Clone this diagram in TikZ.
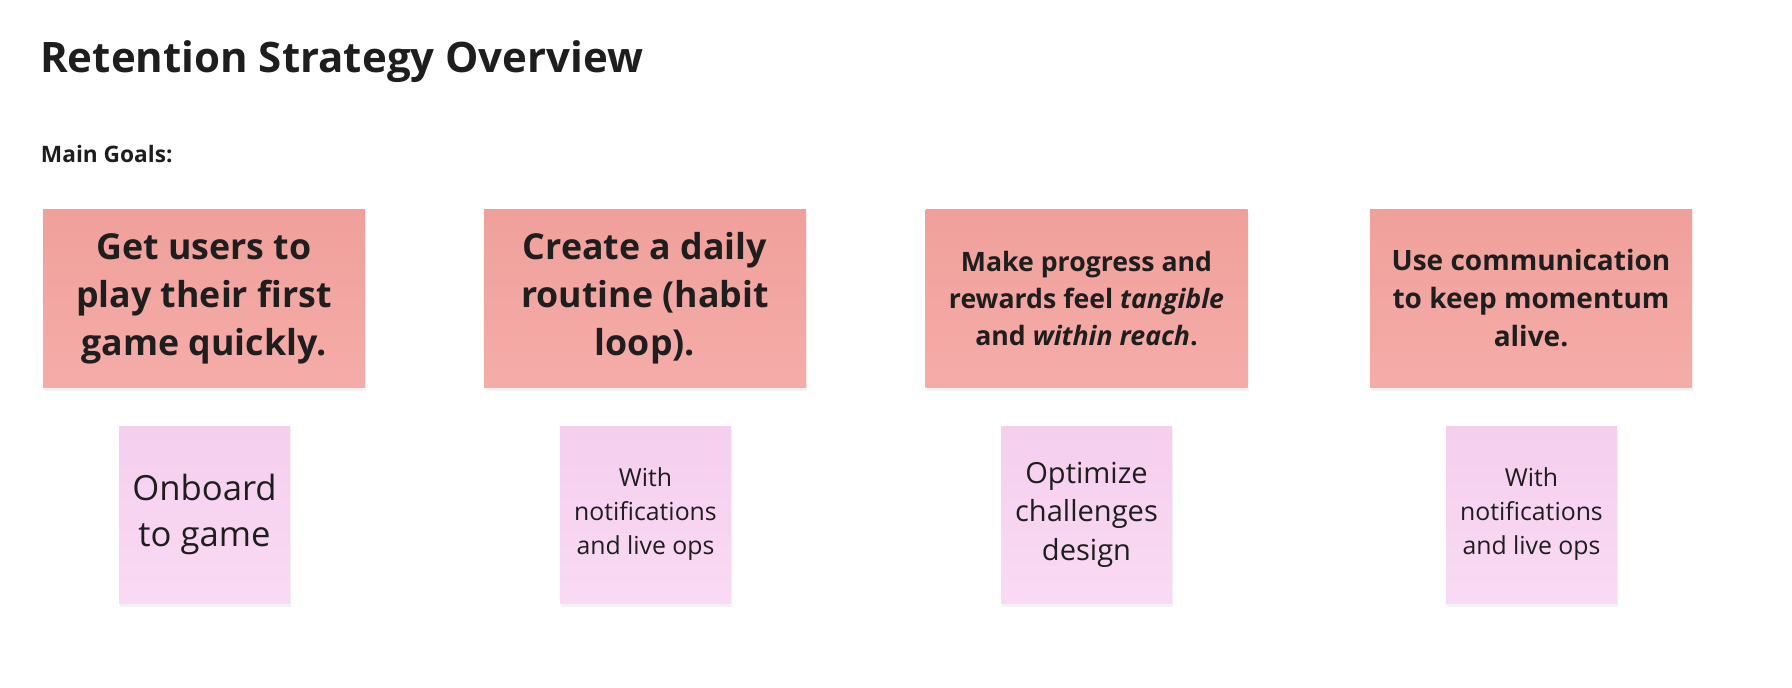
\documentclass[tikz,border=0pt]{standalone}
\usepackage{fontspec}
\setmainfont{Open Sans}
\usetikzlibrary{shadows}

\definecolor{inkgray}{HTML}{1E1E1E}
\definecolor{goaltop}{HTML}{F0A09B}
\definecolor{goalbot}{HTML}{F5ACA8}
\definecolor{notetop}{HTML}{F5CFEE}
\definecolor{notebot}{HTML}{F9DAF4}

\begin{document}
\begin{tikzpicture}[
    x=0.75pt, y=-0.75pt,
    % Styles for each node type
    title/.style={anchor=base west, inner sep=0pt, text=inkgray, font=\fontsize{31.5}{38}\selectfont\bfseries},
    heading/.style={anchor=base west, inner sep=0pt, text=inkgray, font=\fontsize{17}{20}\selectfont\bfseries},
    goal/.style={rectangle, align=center, top color=goaltop, bottom color=goalbot, text=inkgray, minimum width=241.5pt, minimum height=132.75pt, inner sep=0pt, drop shadow={shadow xshift=1pt, shadow yshift=-3pt, opacity=0.1}},
    goalbig/.style={goal, font=\fontsize{26.8}{36}\selectfont\bfseries},
    goalsmall/.style={goal, font=\fontsize{20}{27.5}\selectfont\bfseries},
    note/.style={rectangle, align=center, top color=notetop, bottom color=notebot, text=inkgray, minimum width=128.25pt, minimum height=132.75pt, inner sep=0pt, drop shadow={shadow xshift=1pt, shadow yshift=-3pt, opacity=0.1}}
]
\useasboundingbox (0,0) rectangle (1792,688);

% Title and heading
\node[title] (title) at (40,72.7) {Retention Strategy Overview};
\node[heading] (goals) at (40.7,163) {Main Goals:};

% Main goals (top row)
\node[goalbig]   (g1) at (204,298.5)    {Get users to\\play their first\\game quickly.};
\node[goalbig]   (g2) at (645,298.5)    {Create a daily\\routine (habit\\loop).};
\node[goalsmall] (g3) at (1086.5,298.5) {Make progress and\\rewards feel \textit{tangible}\\and \textit{within reach}.};
\node[goalsmall, font=\fontsize{21}{28.5}\selectfont\bfseries] (g4) at (1531,298.5) {Use communication\\to keep momentum\\alive.};

% Sticky notes under each goal
\node[note, font=\fontsize{26}{35}\selectfont]     (n1) at (204.5,514.5)  {Onboard\\to game};
\node[note, font=\fontsize{18.6}{25.5}\selectfont] (n2) at (645.5,514.5)  {With\\notifications\\and live ops};
\node[note, font=\fontsize{21.8}{29}\selectfont]   (n3) at (1086.5,514.5) {Optimize\\challenges\\design};
\node[note, font=\fontsize{18.6}{25.5}\selectfont] (n4) at (1531.5,514.5) {With\\notifications\\and live ops};

\end{tikzpicture}
\end{document}
